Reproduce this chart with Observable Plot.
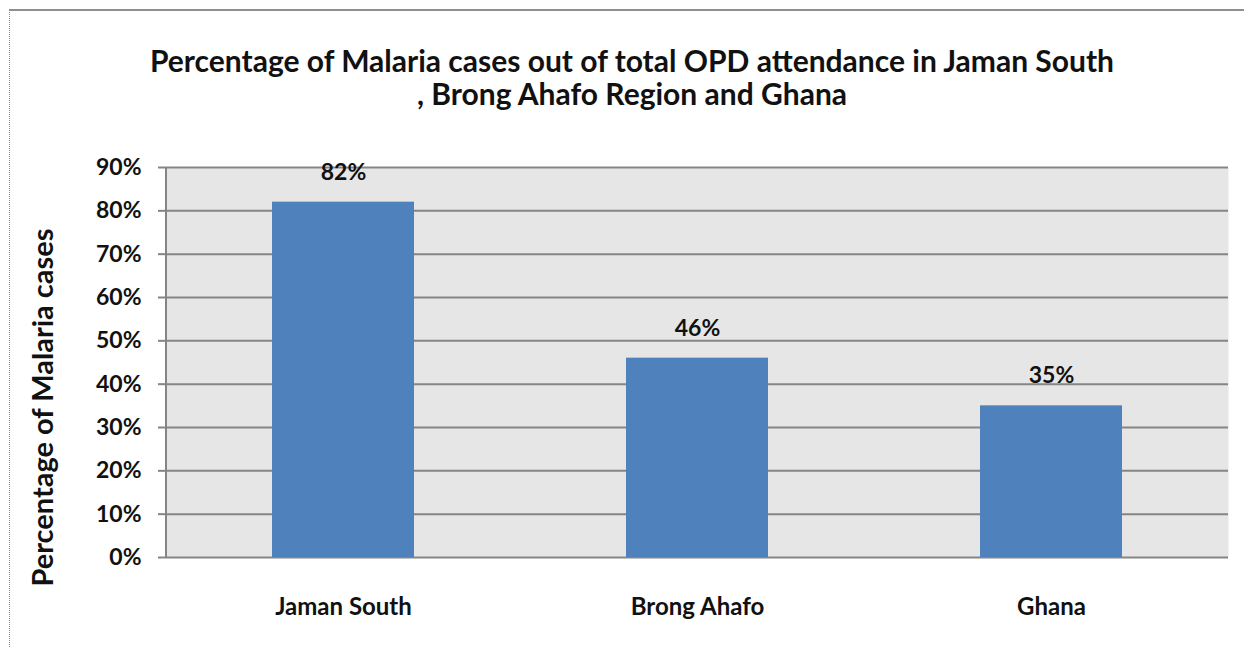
<!DOCTYPE html>
<html><head><meta charset="utf-8">
<script src="https://cdn.jsdelivr.net/npm/d3@7"></script>
<script src="https://cdn.jsdelivr.net/npm/@observablehq/plot@0.6"></script>
<style>
body{margin:0;background:#fff;}
#wrap{position:relative;width:1244px;height:648px;overflow:hidden;font-family:Lato,sans-serif;}
#frame{position:absolute;left:9px;top:9px;width:1250px;height:650px;border-top:2px solid #8f8f8f;border-left:1px dotted #8a8a8a;}
#title{position:absolute;left:10px;width:1244px;top:44px;text-align:center;font-weight:bold;font-size:30px;line-height:33px;color:#111;white-space:nowrap;}
#chart{position:absolute;left:0;top:120px;}
</style></head>
<body>
<div id="wrap">
  <div id="frame"></div>
  <div id="title">Percentage of Malaria cases out of total OPD attendance in Jaman South<br>, Brong Ahafo Region and Ghana</div>
  <div id="chart"></div>
</div>
<script>
const categories = ["Jaman South", "Brong Ahafo", "Ghana"];
const values = [82, 46, 35];
const yTicks = [0, 10, 20, 30, 40, 50, 60, 70, 80, 90];
const yTitle = "Percentage of Malaria cases";

const data = categories.map((c, i) => ({category: c, value: values[i]}));

const chart = Plot.plot({
  width: 1244,
  height: 528,
  marginTop: 47,
  marginBottom: 91,
  marginLeft: 166,
  marginRight: 16,
  style: "font-family:Lato,sans-serif;font-size:23px;font-weight:bold;color:#111;background:transparent;",
  x: {domain: categories, paddingInner: 0.6, paddingOuter: 0.3, label: null},
  y: {domain: [0, 90], ticks: yTicks, label: null},
  marks: [
    Plot.frame({fill: "#e6e6e6", stroke: null}),
    Plot.gridY(yTicks, {stroke: "#858585", strokeOpacity: 1, strokeWidth: 2}),
    Plot.axisY(yTicks, {tickSize: 8, tickPadding: 17, stroke: "#858585", strokeWidth: 2, tickFormat: d => d + "%", fill: "#111", fontSize: 23}),
    Plot.axisX({tickSize: 0, tickPadding: 40, fill: "#111", fontSize: 24}),
    Plot.barY(data, {x: "category", y: "value", fill: "#4f81bd"}),
    Plot.text(data, {x: "category", y: "value", text: d => d.value + "%", dy: -30, fill: "#111", fontSize: 23}),
    Plot.text([yTitle], {frameAnchor: "left", textAnchor: "middle", rotate: -90, dx: -123, dy: 45, fill: "#111", fontSize: 29})
  ]
});
document.getElementById("chart").appendChild(chart);

// left axis line drawn from the library's scales
const xs = chart.scale("x"), ys = chart.scale("y");
d3.select(chart).append("line")
  .attr("x1", xs.range[0]).attr("x2", xs.range[0])
  .attr("y1", ys.apply(0)).attr("y2", ys.apply(90))
  .attr("stroke", "#858585").attr("stroke-width", 2);
</script>
</body></html>
